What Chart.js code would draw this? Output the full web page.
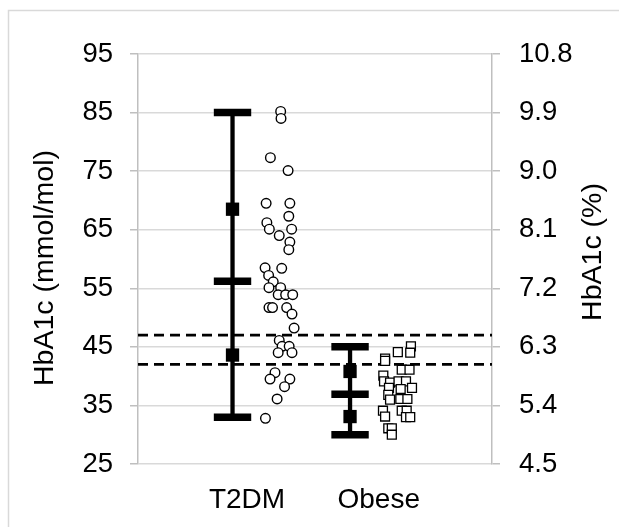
<!DOCTYPE html>
<html>
<head>
<meta charset="utf-8">
<script src="https://cdn.jsdelivr.net/npm/chart.js@4/dist/chart.umd.min.js"></script>
<style>
  html, body { margin: 0; padding: 0; background: #fff; }
  canvas { display: block; }
</style>
</head>
<body>
<canvas id="chart" width="619" height="527"></canvas>
<script>
// groups and where their labels sit on the hidden x scale (0..10)
var categories = ["T2DM", "Obese"];
var categoryTickX = [3.08, 6.80];

// summary bars: range with median cap and quartile squares
var barX = [2.67, 5.99];
var minVals = [33, 30];
var q1Vals = [43.6, 33.1];
var medianVals = [56.2, 36.9];
var q3Vals = [68.5, 40.8];
var maxVals = [85, 45];

// individual values (x = jitter position)
var t2dmX = [4.03, 4.04, 3.74, 4.24, 3.62, 4.29, 4.26, 3.64, 3.71, 4.34, 3.99, 4.29, 4.26,
             3.59, 4.06, 3.69, 3.82, 3.70, 4.03, 3.96, 4.17, 4.37, 3.70, 3.80, 4.20, 4.35,
             4.41, 3.99, 4.07, 4.27, 3.96, 4.35, 3.87, 3.73, 4.29, 4.14, 3.93, 3.60];
var t2dmY = [85.2, 84.0, 77.3, 75.1, 69.5, 69.5, 67.3, 66.2, 65.1, 65.1, 64.0, 62.9, 61.6,
             58.5, 58.4, 57.2, 56.1, 55.1, 55.1, 53.9, 53.9, 53.9, 51.7, 51.7, 51.7, 50.6,
             48.2, 46.1, 45.1, 45.1, 44.0, 44.0, 40.6, 39.5, 39.5, 38.2, 36.1, 32.8];
var obeseX = [7.71, 7.69, 7.34, 6.98, 6.98, 7.45, 7.67, 6.93, 6.95, 7.12, 7.36, 7.57, 7.09, 7.42,
              7.74, 7.07, 7.12, 7.41, 7.61, 6.92, 6.98, 7.45, 7.59, 7.57, 7.69, 7.07, 7.17, 7.17];
var obeseY = [45.1, 44.0, 44.1, 43.0, 42.6, 41.1, 41.1, 40.1, 39.1, 38.9, 39.1, 39.1, 38.0, 37.8,
              38.0, 36.8, 36.0, 36.1, 36.1, 34.1, 33.1, 34.1, 34.1, 33.0, 33.0, 31.1, 31.1, 30.0];

// dashed reference lines (mmol/mol)
var refLines = [47, 42];

// right axis ticks (%)
var pctTicks = [4.5, 5.4, 6.3, 7.2, 8.1, 9.0, 9.9, 10.8];

var leftTitle = "HbA1c (mmol/mol)";
var rightTitle = "HbA1c (%)";

var FONT = "'Liberation Sans', Arial, sans-serif";
var GRID = "#d9d9d9";
var AXIS = "#bfbfbf";

function pts(xs, ys) {
  return xs.map(function(x, i) { return { x: x, y: ys[i] }; });
}

var datasets = [];

// caps and quartile markers on top
barX.forEach(function(x, i) {
  datasets.push({
    type: "scatter",
    data: [{ x: x, y: q1Vals[i] }, { x: x, y: q3Vals[i] }],
    pointStyle: "rect",
    pointRadius: 9.4,
    pointBackgroundColor: "#000",
    pointBorderWidth: 0,
    order: 0
  });
  datasets.push({
    type: "scatter",
    data: [{ x: x, y: minVals[i] }, { x: x, y: medianVals[i] }, { x: x, y: maxVals[i] }],
    pointStyle: "line",
    pointRadius: 18.7,
    pointBorderWidth: 7.5,
    pointBorderColor: "#000",
    order: 1
  });
  datasets.push({
    type: "line",
    data: [{ x: x, y: minVals[i] }, { x: x, y: maxVals[i] }],
    borderColor: "#000",
    borderWidth: 4.3,
    pointRadius: 0,
    order: 2
  });
});

datasets.push({
  type: "scatter",
  data: pts(t2dmX, t2dmY),
  pointStyle: "circle",
  pointRadius: 4.8,
  pointBorderWidth: 1.4,
  pointBorderColor: "#000",
  pointBackgroundColor: "#fff",
  order: 3
});
datasets.push({
  type: "scatter",
  data: pts(obeseX, obeseY),
  pointStyle: "rect",
  pointRadius: 6.3,
  pointBorderWidth: 1.3,
  pointBorderColor: "#000",
  pointBackgroundColor: "#fff",
  order: 3
});

refLines.forEach(function(v) {
  datasets.push({
    type: "line",
    data: [{ x: 0, y: v }, { x: 10, y: v }],
    borderColor: "#000",
    borderWidth: 2.7,
    borderDash: [10, 6],
    pointRadius: 0,
    order: 4
  });
});

// white page + thin frame, and both axis titles reading bottom-to-top
var framePlugin = {
  id: "frame",
  beforeDraw: function(chart) {
    var ctx = chart.ctx;
    ctx.save();
    ctx.fillStyle = "#fff";
    ctx.fillRect(0, 0, chart.width, chart.height);
    ctx.strokeStyle = GRID;
    ctx.lineWidth = 1.5;
    ctx.strokeRect(8.5, 10.5, 1000, 1000);
    ctx.restore();
  },
  afterDraw: function(chart) {
    var ctx = chart.ctx;
    var area = chart.chartArea;
    var mid = (area.top + area.bottom) / 2;
    function vtext(txt, x, y) {
      ctx.save();
      ctx.translate(x, y);
      ctx.rotate(-Math.PI / 2);
      ctx.font = "28.5px " + FONT;
      ctx.fillStyle = "#000";
      ctx.textAlign = "center";
      ctx.textBaseline = "middle";
      ctx.fillText(txt, 0, 0);
      ctx.restore();
    }
    vtext(leftTitle, 45, mid + 9);
    vtext(rightTitle, 593, mid - 7);
  }
};

new Chart(document.getElementById("chart"), {
  type: "scatter",
  data: { datasets: datasets },
  plugins: [framePlugin],
  options: {
    responsive: false,
    animation: false,
    events: [],
    layout: { padding: { top: 54, right: 0, bottom: 0, left: 0 } },
    plugins: { legend: { display: false }, tooltip: { enabled: false } },
    scales: {
      x: {
        type: "linear",
        min: 0,
        max: 10,
        afterBuildTicks: function(s) {
          s.ticks = categoryTickX.map(function(v) { return { value: v }; });
        },
        ticks: {
          autoSkip: false,
          maxRotation: 0,
          padding: 19,
          color: "#000",
          font: { family: FONT, size: 28 },
          callback: function(v, i) { return categories[i]; }
        },
        grid: { display: false, drawTicks: false },
        border: { display: false },
        afterFit: function(s) { s.height = 63; }
      },
      y: {
        position: "left",
        min: 25,
        max: 95,
        ticks: {
          stepSize: 10,
          padding: 17,
          color: "#000",
          font: { family: FONT, size: 27.5 }
        },
        grid: { color: GRID, lineWidth: 1.5, tickLength: 8, tickColor: AXIS },
        border: { color: AXIS, width: 1.5 },
        afterFit: function(s) { s.width = 138; }
      },
      y2: {
        position: "right",
        min: 4.5,
        max: 10.8,
        afterBuildTicks: function(s) {
          s.ticks = pctTicks.map(function(v) { return { value: v }; });
        },
        ticks: {
          padding: 19,
          color: "#000",
          font: { family: FONT, size: 27.5 },
          callback: function(v) { return Number(v).toFixed(1); }
        },
        grid: { drawOnChartArea: false, color: AXIS, lineWidth: 1.5, tickLength: 8 },
        border: { color: AXIS, width: 1.5 },
        afterFit: function(s) { s.width = 127; }
      }
    }
  }
});
</script>
</body>
</html>
